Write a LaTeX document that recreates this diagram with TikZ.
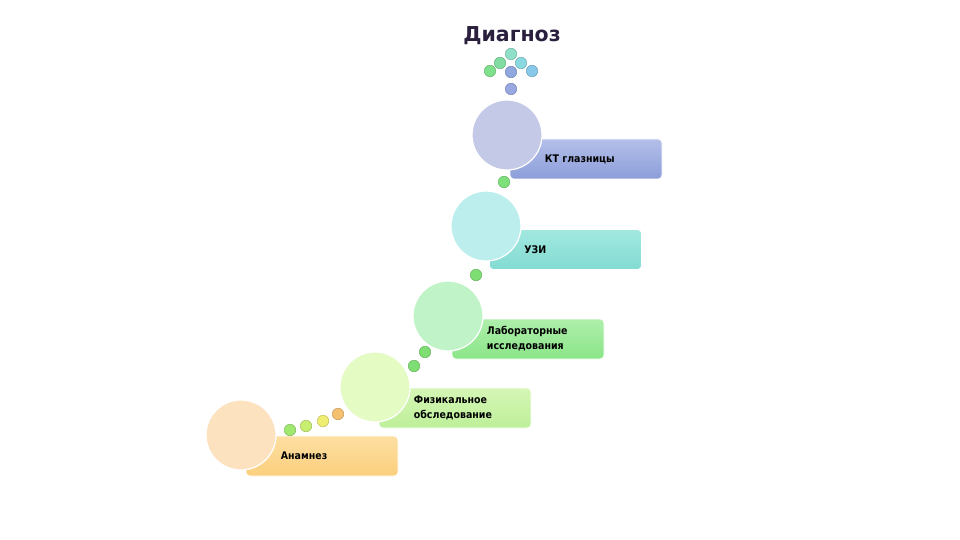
\documentclass[tikz,border=0pt]{standalone}
\usepackage{fontspec}
\setmainfont{DejaVu Sans}
\newfontfamily\uzkiy{DejaVu Sans Condensed}
\usetikzlibrary{positioning}

\definecolor{titul}{HTML}{2A1F3D}
\definecolor{ktverh}{HTML}{B4C0E9}
\definecolor{ktniz}{HTML}{8C9DD9}
\definecolor{ktkrug}{HTML}{C3C9E6}
\definecolor{uziverh}{HTML}{A2E8E0}
\definecolor{uziniz}{HTML}{82DBD2}
\definecolor{uzikrug}{HTML}{BDEEEE}
\definecolor{labverh}{HTML}{AEEFAC}
\definecolor{labniz}{HTML}{8BE588}
\definecolor{labkrug}{HTML}{C0F4C8}
\definecolor{fizverh}{HTML}{D6F6B6}
\definecolor{fizniz}{HTML}{BDEF98}
\definecolor{fizkrug}{HTML}{E4FBC3}
\definecolor{anverh}{HTML}{FDDFA2}
\definecolor{anniz}{HTML}{FBCF7D}
\definecolor{ankrug}{HTML}{FDE2C0}

\begin{document}
\begin{tikzpicture}[
x=1pt, y=-1pt,
stupen/.style={
    rounded corners=4pt,
    minimum width=152pt,
    minimum height=40pt,
    inner sep=0pt,
    draw=white,
    line width=0.6pt
},
krug/.style={
    circle,
    minimum size=70pt,
    inner sep=0pt,
    draw=white,
    line width=1.2pt
},
tochka/.style={
    circle,
    minimum size=11.5pt,
    inner sep=0pt,
    line width=0.5pt
},
nadpis/.style={
    anchor=west,
    align=left,
    inner sep=0pt,
    font=\uzkiy\bfseries\fontsize{10.5}{15}\selectfont
}
]
\useasboundingbox (0,0) rectangle (960,540);

% Zagolovok
\node[font=\bfseries\fontsize{20.5}{24}\selectfont, text=titul] (diagnoz) at (512,36) {Диагноз};

% Strelka iz tochek
\foreach \x/\y/\c [count=\n] in {
    511/54/8FE0C8, 500/63/80DCA0, 521/63/8AD8E0,
    490/71/7EE08A, 511/72/8FA8E0, 532/71/88C8E8,
    511/89/98A8E0} {
  \definecolor{tc}{HTML}{\c}
  \node[tochka, fill=tc, draw=tc!80!black] (strelka\n) at (\x,\y) {};
}

% Stupeni
\node[stupen, top color=anverh, bottom color=anniz] (anamnez) at (322,456) {};
\node[krug, fill=ankrug] (anamnezkrug) at (241,435) {};
\node[nadpis] (anamneztekst) at ([xshift=35pt]anamnez.west) {Анамнез};

\node[stupen, top color=fizverh, bottom color=fizniz] (fizikal) at (455,408) {};
\node[krug, fill=fizkrug] (fizikalkrug) at (375,387) {};
\node[nadpis] (fizikaltekst) at ([xshift=35pt]fizikal.west) {Физикальное\\обследование};

\node[stupen, top color=labverh, bottom color=labniz] (labor) at (528,339) {};
\node[krug, fill=labkrug] (laborkrug) at (448,316) {};
\node[nadpis] (labortekst) at ([xshift=35pt]labor.west) {Лабораторные\\исследования};

\node[stupen, top color=uziverh, bottom color=uziniz] (uzi) at (565.5,249.5) {};
\node[krug, fill=uzikrug] (uzikrug) at (486,226) {};
\node[nadpis] (uzitekst) at ([xshift=35pt]uzi.west) {УЗИ};

\node[stupen, top color=ktverh, bottom color=ktniz] (kt) at (586,159) {};
\node[krug, fill=ktkrug] (ktkrug) at (507,135) {};
\node[nadpis] (kttekst) at ([xshift=35pt]kt.west) {КТ глазницы};

% Tochki mezhdu stupenyami
\foreach \x/\y/\c [count=\n] in {
    504/182/7EE07A, 476/275/7EDE74,
    425/352/7EDE74, 414/366/7EDE74,
    338/414/F5C070, 323/421/F0EE70,
    306/426/C8EE70, 290/430/A0E870} {
  \definecolor{tc}{HTML}{\c}
  \node[tochka, fill=tc, draw=tc!80!black] (perehod\n) at (\x,\y) {};
}

\end{tikzpicture}
\end{document}
